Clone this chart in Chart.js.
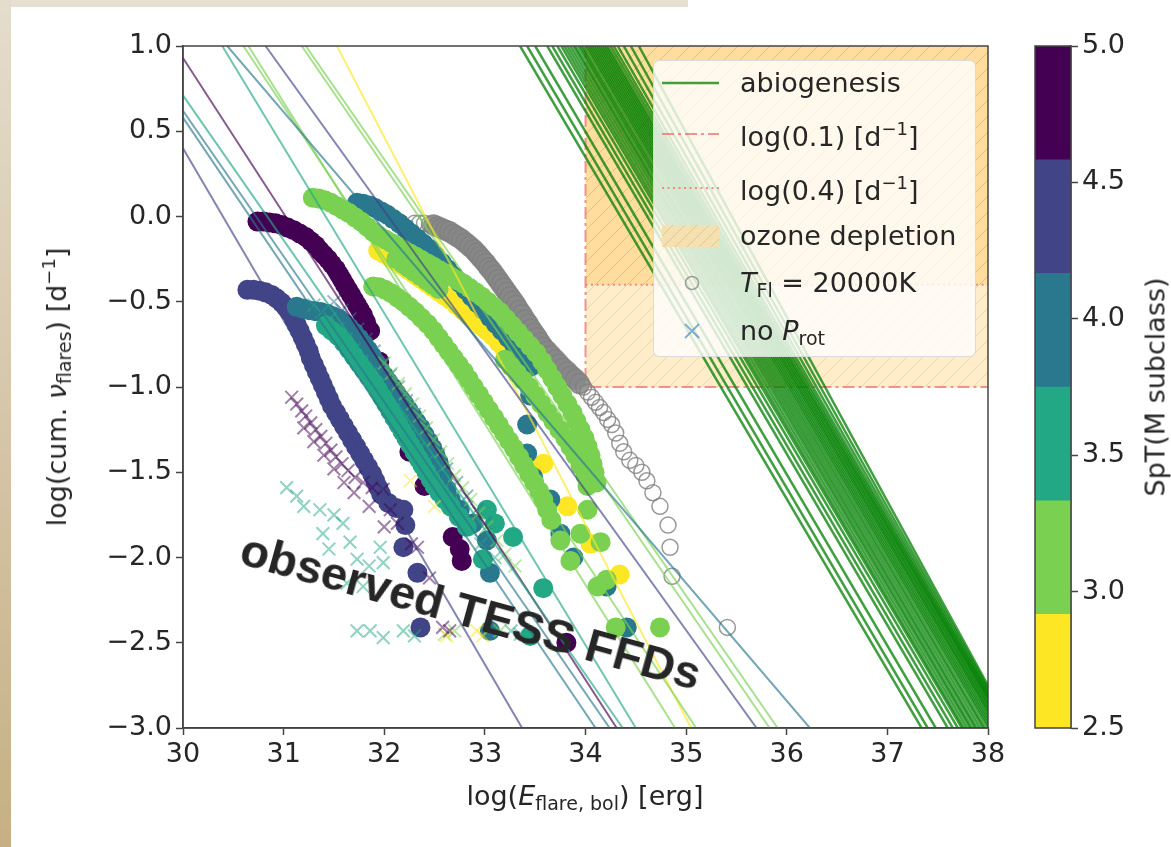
<!DOCTYPE html>
<html>
<head>
<meta charset="utf-8">
<script src="https://cdn.jsdelivr.net/npm/chart.js@4.4.1/dist/chart.umd.min.js"></script>
<style>
  html, body { margin: 0; padding: 0; background: #fff; }
  body { width: 1171px; height: 847px; position: relative; overflow: hidden;
         font-family: 'DejaVu Sans', sans-serif; color: #262626; }
  #frameTop { position: absolute; left: 0; top: 0; width: 688px; height: 7px; background: #e6dfd2; }
  #frameLeft { position: absolute; left: 0; top: 0; width: 11px; height: 847px;
               background: linear-gradient(#e4dccd, #c6b083); }
  #main { position: absolute; left: 0; top: 0; }
  #cbar { position: absolute; left: 1000px; top: 0; }
  .lbl { position: absolute; font-size: 27px; white-space: nowrap; line-height: 1; }
  .s { font-size: 19px; vertical-align: -5px; }
  .p { font-size: 18px; vertical-align: 11px; }
  #legend { position: absolute; left: 653px; top: 60px; width: 323px; height: 297px;
            background: rgba(255,255,255,0.8); border: 1px solid rgba(210,210,210,0.8);
            border-radius: 6px; box-sizing: border-box; }
  .row { position: absolute; left: 0; height: 40px; width: 320px; }
  .row svg { position: absolute; left: 8px; top: 8px; }
  .row > span { position: absolute; left: 86px; top: 6px; font-size: 27px; white-space: nowrap; line-height: 1; }
  #note { position: absolute; left: 471px; top: 611px; transform: translate(-50%, -50%) rotate(15.5deg);
          font-family: 'Liberation Sans', Arial, sans-serif; font-weight: bold; font-size: 47px;
          color: #262626; white-space: nowrap; line-height: 1; }
</style>
</head>
<body>
<div id="frameTop"></div>
<div id="frameLeft"></div>
<canvas id="main" width="1010" height="847"></canvas>
<canvas id="cbar" width="171" height="847"></canvas>

<div class="lbl" style="left:585px; top:797px; transform:translate(-50%,-50%);">log(<i>E</i><span class="s">flare, bol</span>) [erg]</div>
<div class="lbl" style="left:57px; top:387px; transform:translate(-50%,-50%) rotate(-90deg);">log(cum. <i>ν</i><span class="s">flares</span>) [d<span class="p">−1</span>]</div>
<div class="lbl" style="left:1155px; top:387px; transform:translate(-50%,-50%) rotate(-90deg);">SpT(M subclass)</div>
<div id="note">observed TESS FFDs</div>

<div id="legend">
  <div class="row" style="top:2px">
    <svg width="58" height="24"><line x1="0" y1="12" x2="57" y2="12" stroke="rgba(0,128,0,0.75)" stroke-width="2.5"/></svg>
    <span>abiogenesis</span>
  </div>
  <div class="row" style="top:53px">
    <svg width="58" height="24"><line x1="0" y1="12" x2="57" y2="12" stroke="rgba(240,110,110,0.75)" stroke-width="2" stroke-dasharray="12 4 3 4"/></svg>
    <span>log(0.1) [d<span class="p">−1</span>]</span>
  </div>
  <div class="row" style="top:107px">
    <svg width="58" height="24"><line x1="0" y1="12" x2="57" y2="12" stroke="rgba(240,110,110,0.75)" stroke-width="2" stroke-dasharray="2 3.5"/></svg>
    <span>log(0.4) [d<span class="p">−1</span>]</span>
  </div>
  <div class="row" style="top:155px">
    <svg width="58" height="24">
      <defs><pattern id="hp" width="12" height="12" patternUnits="userSpaceOnUse">
        <path d="M0,12 L12,0" stroke="rgba(230,170,80,0.5)" stroke-width="1"/></pattern></defs>
      <rect x="0" y="1" width="57" height="22" fill="rgb(244,224,176)"/>
      <rect x="0" y="1" width="57" height="22" fill="url(#hp)"/>
    </svg>
    <span>ozone depletion</span>
  </div>
  <div class="row" style="top:202px">
    <svg width="58" height="24"><circle cx="30" cy="12" r="6.5" fill="none" stroke="rgba(128,128,128,0.75)" stroke-width="1.5"/></svg>
    <span><i>T</i><span class="s">Fl</span> = 20000K</span>
  </div>
  <div class="row" style="top:250px">
    <svg width="58" height="24"><path d="M23,5 L37,19 M23,19 L37,5" stroke="rgba(31,119,180,0.55)" stroke-width="2"/></svg>
    <span>no <i>P</i><span class="s">rot</span></span>
  </div>
</div>

<script>
// axes
var xTicks = [30, 31, 32, 33, 34, 35, 36, 37, 38];
var yTicks = [-3.0, -2.5, -2.0, -1.5, -1.0, -0.5, 0.0, 0.5, 1.0];

// colour bar (discrete viridis, M subclass)
var sptEdges = [2.5, 2.917, 3.333, 3.75, 4.167, 4.583, 5.0];
var sptColors = ['#fde725', '#7ad151', '#22a884', '#2a788e', '#414487', '#440154'];
var cbarTicks = [2.5, 3.0, 3.5, 4.0, 4.5, 5.0];

// ozone depletion box
var ozoneX = [34, 38];
var logRate01 = -1.0;
var logRate04 = -0.4;

// abiogenesis lines: x where each line crosses y=1 and y=-3
var abioTopX = [33.35, 33.42, 33.50, 33.62, 33.67, 33.72, 33.76, 33.79, 33.82, 33.85, 33.88, 33.90, 33.93, 33.95, 33.97, 34.00, 34.02,
                34.04, 34.06, 34.08, 34.10, 34.12, 34.14, 34.16, 34.18, 34.20, 34.22, 34.25, 34.28, 34.32, 34.38, 34.45, 34.53];
var abioBotX = [37.34, 37.40, 37.48, 37.60, 37.65, 37.70, 37.74, 37.76, 37.79, 37.82, 37.84, 37.87, 37.89, 37.92, 37.95, 37.97, 38.00,
                38.02, 38.04, 38.06, 38.08, 38.10, 38.11, 38.13, 38.14, 38.16, 38.17, 38.18, 38.19, 38.20, 38.21, 38.22, 38.23];

// power law fits per star
var fitX0 = [30, 30, 30, 30, 30, 30.39, 30.44, 30.60, 30.65, 30.82, 31.18, 31.53, 31.22];
var fitY0 = [0.40, 0.58, 0.62, 0.71, 0.93, 1, 1, 1, 1, 1, 1, 1, 1];
var fitX1 = [33.37, 34.10, 34.24, 34.37, 34.31, 34.50, 36.23, 35.10, 34.89, 35.70, 35.83, 35.05, 35.91];
var fitY1 = [-3, -3, -3, -3, -3, -3, -3, -3, -3, -3, -3, -3, -3];
var fitSpT = [4.5, 4.0, 4.0, 3.5, 5.0, 3.5, 4.0, 3.0, 3.0, 4.5, 3.0, 2.5, 3.0];

// observed FFDs, stars with rotation periods
var ffdM50 = [[30.74,-0.03],[30.8,-0.03],[30.86,-0.035],[30.92,-0.04],[30.98,-0.05],[31.04,-0.065],[31.1,-0.08],[31.16,-0.1],
  [31.22,-0.12],[31.27,-0.145],[31.32,-0.17],[31.36,-0.2],[31.4,-0.225],[31.44,-0.25],[31.48,-0.28],[31.52,-0.31],[31.55,-0.34],
  [31.58,-0.37],[31.61,-0.4],[31.64,-0.43],[31.67,-0.46],[31.7,-0.49],[31.73,-0.52],[31.76,-0.55],[31.79,-0.58],[31.82,-0.62],
  [31.86,-0.67],[31.95,-0.85],[32.1,-1.12],[32.25,-1.38],[32.4,-1.58],[32.68,-1.88],[32.75,-1.95],[32.77,-2.02],[33.81,-2.5]];
var ffdM45 = [[30.64,-0.43],[30.7,-0.43],[30.76,-0.435],[30.82,-0.445],[30.88,-0.46],[30.93,-0.48],[30.98,-0.505],[31.02,-0.53],
  [31.06,-0.56],[31.1,-0.6],[31.13,-0.635],[31.16,-0.67],[31.19,-0.71],[31.22,-0.75],[31.25,-0.79],[31.27,-0.83],[31.3,-0.87],
  [31.33,-0.91],[31.36,-0.95],[31.39,-0.99],[31.42,-1.03],[31.45,-1.07],[31.48,-1.11],[31.52,-1.15],[31.56,-1.19],[31.6,-1.23],
  [31.64,-1.27],[31.68,-1.31],[31.72,-1.35],[31.76,-1.39],[31.8,-1.43],[31.84,-1.47],[31.88,-1.51],[31.91,-1.55],[31.94,-1.59],
  [31.97,-1.63],[32.04,-1.68],[32.12,-1.71],[32.19,-1.72],[32.21,-1.81],[32.19,-1.94],[32.33,-2.09],[32.36,-2.41]];
var ffdM40a = [[31.13,-0.53],[31.19,-0.54],[31.25,-0.55],[31.31,-0.555],[31.37,-0.56],[31.43,-0.57],[31.49,-0.585],[31.55,-0.6],
  [31.6,-0.625],[31.65,-0.65],[31.7,-0.68],[31.75,-0.715],[31.8,-0.75],[31.84,-0.785],[31.88,-0.82],[31.92,-0.86],[31.96,-0.9],
  [32.0,-0.935],[32.04,-0.97],[32.08,-1.0],[32.12,-1.035],[32.16,-1.07],[32.2,-1.1],[32.24,-1.135],[32.28,-1.17],[32.32,-1.205],
  [32.36,-1.24],[32.4,-1.28],[32.44,-1.32],[32.48,-1.36],[32.51,-1.4],[32.54,-1.44],[32.56,-1.48],[32.58,-1.53],[32.62,-1.6],
  [32.66,-1.66],[32.75,-1.72],[32.88,-1.8],[33.02,-1.9],[33.05,-2.09],[33.05,-2.43]];
var ffdM35 = [[31.42,-0.64],[31.48,-0.67],[31.54,-0.7],[31.6,-0.74],[31.65,-0.78],[31.7,-0.82],[31.75,-0.86],[31.8,-0.9],
  [31.85,-0.94],[31.9,-0.98],[31.94,-1.02],[31.98,-1.06],[32.02,-1.1],[32.06,-1.14],[32.1,-1.18],[32.14,-1.22],[32.18,-1.26],
  [32.22,-1.3],[32.26,-1.34],[32.3,-1.38],[32.34,-1.42],[32.38,-1.46],[32.42,-1.5],[32.46,-1.54],[32.5,-1.58],[32.55,-1.62],
  [32.6,-1.66],[32.66,-1.7],[32.74,-1.76],[32.82,-1.82],[32.98,-2.01],[33.02,-1.72],[33.1,-1.8],[33.28,-1.88],[33.58,-2.18],
  [33.45,-2.46]];
var ffdM40b = [[31.73,0.08],[31.79,0.075],[31.85,0.065],[31.91,0.05],[31.97,0.03],[32.03,0.01],[32.09,-0.015],[32.15,-0.04],
  [32.21,-0.07],[32.27,-0.1],[32.33,-0.13],[32.39,-0.16],[32.45,-0.19],[32.51,-0.23],[32.57,-0.27],[32.63,-0.31],[32.69,-0.35],
  [32.75,-0.39],[32.81,-0.43],[32.87,-0.47],[32.93,-0.51],[32.99,-0.55],[33.05,-0.59],[33.11,-0.63],[33.17,-0.67],[33.23,-0.71],
  [33.29,-0.75],[33.35,-0.79],[33.41,-0.83],[33.46,-0.88],[33.45,-1.05],[33.42,-1.22],[33.42,-1.39],[33.48,-1.53],[33.65,-1.66],
  [33.75,-1.86],[33.88,-2.0],[34.21,-2.17],[34.41,-2.41]];
var ffdM25 = [[31.94,-0.2],[32.0,-0.22],[32.06,-0.24],[32.12,-0.265],[32.18,-0.29],[32.24,-0.315],[32.3,-0.34],[32.36,-0.365],
  [32.42,-0.39],[32.48,-0.415],[32.54,-0.44],[32.6,-0.465],[32.66,-0.49],[32.72,-0.52],[32.78,-0.55],[32.84,-0.58],[32.9,-0.61],
  [32.96,-0.64],[33.02,-0.67],[33.08,-0.7],[33.14,-0.74],[33.2,-0.78],[33.26,-0.82],[33.3,-0.86],[33.58,-1.45],[33.82,-1.7],
  [34.05,-1.92],[34.34,-2.1]];
var ffdM30a = [[31.29,0.11],[31.35,0.105],[31.41,0.095],[31.47,0.08],[31.53,0.06],[31.59,0.04],[31.65,0.02],[31.71,-0.005],
  [31.77,-0.03],[31.83,-0.06],[31.89,-0.09],[31.95,-0.115],[32.01,-0.135],[32.07,-0.155],[32.13,-0.175],[32.19,-0.195],
  [32.25,-0.215],[32.31,-0.235],[32.37,-0.255],[32.43,-0.275],[32.49,-0.295],[32.55,-0.315],[32.61,-0.335],[32.67,-0.355],
  [32.73,-0.375],[32.79,-0.395],[32.85,-0.42],[32.91,-0.445],[32.97,-0.47],[33.03,-0.5],[33.09,-0.53],[33.15,-0.56],[33.21,-0.6],
  [33.27,-0.64],[33.33,-0.68],[33.39,-0.72],[33.45,-0.76],[33.51,-0.8],[33.57,-0.85],[33.62,-0.9],[33.67,-0.95],[33.72,-1.0],
  [33.77,-1.05],[33.82,-1.1],[33.87,-1.15],[33.91,-1.2],[33.95,-1.25],[33.99,-1.3],[34.02,-1.35],[34.05,-1.4],[34.07,-1.45],
  [34.09,-1.5],[34.11,-1.56],[33.95,-1.86],[34.15,-1.91],[34.21,-2.13],[34.12,-2.17],[34.3,-2.41],[34.74,-2.41]];
var ffdM30b = [[31.89,-0.41],[31.95,-0.415],[32.01,-0.43],[32.07,-0.45],[32.13,-0.475],[32.19,-0.5],[32.25,-0.53],[32.31,-0.56],
  [32.37,-0.595],[32.43,-0.63],[32.49,-0.67],[32.54,-0.71],[32.59,-0.75],[32.64,-0.79],[32.69,-0.83],[32.74,-0.87],[32.79,-0.91],
  [32.84,-0.955],[32.89,-1.0],[32.94,-1.045],[32.99,-1.09],[33.04,-1.135],[33.09,-1.18],[33.14,-1.225],[33.19,-1.27],[33.24,-1.315],
  [33.29,-1.36],[33.34,-1.41],[33.39,-1.46],[33.44,-1.51],[33.49,-1.56],[33.54,-1.61],[33.58,-1.66],[33.62,-1.72],[33.66,-1.78],
  [33.75,-1.9],[33.85,-2.02]];
var ffdM30c = [[32.12,-0.25],[32.18,-0.275],[32.24,-0.3],[32.3,-0.325],[32.36,-0.35],[32.42,-0.375],[32.48,-0.4],[32.54,-0.425],
  [33.2,-0.84],[33.26,-0.88],[33.32,-0.92],[33.38,-0.96],[33.44,-1.0],[33.5,-1.05],[33.56,-1.1],[33.62,-1.15],[33.68,-1.2],
  [33.74,-1.25],[33.8,-1.3],[33.85,-1.35],[33.9,-1.4],[33.95,-1.46],[34.0,-1.52],[34.02,-1.58],[34.02,-1.72]];

// stars without rotation period
var noProtM50 = [[31.08,-1.06],[31.13,-1.1],[31.18,-1.14],[31.22,-1.17],[31.27,-1.21],[31.32,-1.25],[31.37,-1.29],[31.42,-1.33],
  [31.47,-1.37],[31.52,-1.41],[31.58,-1.45],[31.64,-1.49],[31.71,-1.53],[31.79,-1.56],[31.88,-1.59],[31.99,-1.6],[32.06,-1.72],
  [32.13,-1.8],[32.27,-1.92],[32.33,-1.94],[32.45,-2.12],[32.58,-2.41],[32.65,-2.43],[31.2,-1.24],[31.3,-1.32],[31.4,-1.4],
  [31.5,-1.48],[31.6,-1.56],[31.7,-1.62],[31.85,-1.7],[32.0,-1.82]];
var noProtM35a = [[31.03,-1.59],[31.13,-1.64],[31.2,-1.7],[31.36,-1.72],[31.39,-1.86],[31.5,-1.75],[31.59,-1.8],[31.66,-1.91],
  [31.73,-2.01],[31.63,-2.15],[31.79,-2.17],[31.96,-1.94],[31.99,-2.03],[31.73,-2.43],[31.86,-2.43],[31.99,-2.47],[32.19,-2.43],
  [32.3,-2.46],[31.45,-1.95],[31.85,-2.05]];
var noProtM35b = [[31.3,-0.52],[31.38,-0.56],[31.46,-0.6],[31.54,-0.66],[31.62,-0.72],[31.7,-0.78],[31.78,-0.85],[31.86,-0.92],
  [31.94,-0.99],[32.02,-1.06],[32.1,-1.13],[32.18,-1.2],[32.26,-1.28],[32.34,-1.36],[32.42,-1.44],[32.5,-1.52],[32.58,-1.6],
  [32.66,-1.68],[32.76,-1.76],[32.86,-1.84],[32.96,-1.92],[33.1,-2.0],[33.26,-2.43],[33.35,-2.45]];
var noProtM40 = [[31.5,-0.5],[31.58,-0.55],[31.66,-0.6],[31.74,-0.66],[31.82,-0.72],[31.9,-0.79],[31.98,-0.86],[32.06,-0.93],
  [32.14,-1.0],[32.22,-1.08],[32.3,-1.16],[32.38,-1.24],[32.46,-1.32],[32.54,-1.4],[32.62,-1.48],[32.72,-1.56],[32.82,-1.64],
  [32.92,-1.72],[33.0,-1.8]];
var noProtM30 = [[32.0,-0.86],[32.07,-0.92],[32.14,-0.98],[32.21,-1.04],[32.28,-1.1],[32.35,-1.17],[32.42,-1.24],[32.49,-1.31],
  [32.56,-1.38],[32.63,-1.45],[32.7,-1.52],[32.78,-1.59],[32.86,-1.66],[32.94,-1.74],[33.02,-1.82],[33.12,-1.9],[33.2,-1.98],
  [33.3,-2.05],[32.6,-2.45],[32.7,-2.43],[33.15,-2.43]];
var noProtM25 = [[32.26,-1.55],[32.5,-1.7],[32.62,-2.46],[32.92,-2.43],[32.98,-2.46]];

// flare temperature 20000 K
var hot20000K = [[32.3,-0.04],[32.35,-0.04],[32.4,-0.04],[32.45,-0.045],[32.49,-0.05],[32.53,-0.06],[32.57,-0.07],[32.61,-0.08],
  [32.65,-0.09],[32.69,-0.105],[32.73,-0.12],[32.77,-0.135],[32.81,-0.155],[32.85,-0.175],[32.89,-0.195],[32.92,-0.215],
  [32.95,-0.235],[32.98,-0.255],[33.01,-0.275],[33.04,-0.3],[33.07,-0.32],[33.1,-0.345],[33.13,-0.37],[33.16,-0.395],[33.19,-0.42],
  [33.22,-0.445],[33.25,-0.47],[33.28,-0.495],[33.31,-0.52],[33.34,-0.55],[33.37,-0.575],[33.4,-0.605],[33.43,-0.63],[33.46,-0.66],
  [33.49,-0.685],[33.52,-0.71],[33.55,-0.74],[33.58,-0.765],[33.62,-0.79],[33.66,-0.815],[33.7,-0.84],[33.74,-0.865],[33.78,-0.89],
  [33.82,-0.91],[33.86,-0.935],[33.9,-0.955],[33.94,-0.98],[33.98,-1.0],[34.02,-1.03],[34.06,-1.06],[34.1,-1.09],[34.14,-1.12],
  [34.18,-1.15],[34.22,-1.19],[34.26,-1.22],[34.3,-1.27],[34.34,-1.33],[34.38,-1.38],[34.44,-1.43],[34.5,-1.46],[34.56,-1.5],
  [34.61,-1.55],[34.67,-1.62],[34.74,-1.7],[34.82,-1.81],[34.84,-1.94],[34.86,-2.11],[35.41,-2.41]];

var FONT = { family: 'DejaVu Sans', size: 27 };
var INK = '#262626';
var AXIS = '#444';

function toXY(arr) {
  return arr.map(function(p) { return { x: p[0], y: p[1] }; });
}
function rgba(hex, a) {
  var n = parseInt(hex.slice(1), 16);
  return 'rgba(' + (n >> 16) + ',' + ((n >> 8) & 255) + ',' + (n & 255) + ',' + a + ')';
}
function sptColor(s) {
  for (var i = 0; i < sptColors.length; i++) {
    if (s <= sptEdges[i + 1] + 1e-6) return sptColors[i];
  }
  return sptColors[sptColors.length - 1];
}
function dots(arr, spt, order) {
  return { data: toXY(arr), showLine: false, pointStyle: 'circle', pointRadius: 10,
           pointBackgroundColor: sptColor(spt), pointBorderWidth: 0, order: order };
}
function crosses(arr, spt, order) {
  return { data: toXY(arr), showLine: false, pointStyle: 'crossRot', pointRadius: 9,
           pointBorderColor: rgba(sptColor(spt), 0.5), pointBorderWidth: 2, order: order };
}
function segment(pts, color, width, order, dash) {
  return { data: pts, borderColor: color, borderWidth: width, borderDash: dash || [],
           pointRadius: 0, fill: false, order: order };
}
function denseHot(c) {
  var p = c.raw;
  return p && p.x > 32.47 && p.y > -1.0;
}

// hatched orange fill
var mainCanvas = document.getElementById('main');
var tile = document.createElement('canvas');
tile.width = 16; tile.height = 16;
var tg = tile.getContext('2d');
tg.fillStyle = 'rgba(255,165,0,0.21)';
tg.fillRect(0, 0, 16, 16);
tg.strokeStyle = 'rgba(230,140,30,0.25)';
tg.lineWidth = 1;
tg.beginPath();
tg.moveTo(0, 16); tg.lineTo(16, 0);
tg.moveTo(-4, 4); tg.lineTo(4, -4);
tg.moveTo(12, 20); tg.lineTo(20, 12);
tg.stroke();
var hatch = mainCanvas.getContext('2d').createPattern(tile, 'repeat');

var datasets = [];
// ozone depletion regions
datasets.push({ data: [{ x: ozoneX[0], y: logRate01 }, { x: ozoneX[1], y: logRate01 }], fill: 'end',
                backgroundColor: hatch, borderWidth: 0, pointRadius: 0, order: 100 });
datasets.push({ data: [{ x: ozoneX[0], y: logRate04 }, { x: ozoneX[1], y: logRate04 }], fill: 'end',
                backgroundColor: hatch, borderWidth: 0, pointRadius: 0, order: 99 });
datasets.push(segment([{ x: ozoneX[0], y: 1 }, { x: ozoneX[0], y: logRate01 }, { x: ozoneX[1], y: logRate01 }],
                      'rgba(240,110,110,0.75)', 2, 98, [12, 4, 3, 4]));
datasets.push(segment([{ x: ozoneX[0], y: logRate04 }, { x: ozoneX[1], y: logRate04 }],
                      'rgba(240,110,110,0.75)', 2, 97, [2, 3.5]));
// abiogenesis
abioTopX.forEach(function(xt, i) {
  datasets.push(segment([{ x: xt, y: 1 }, { x: abioBotX[i], y: -3 }], 'rgba(0,128,0,0.75)', 2.5, 90));
});
// T = 20000 K open circles
datasets.push({ data: toXY(hot20000K), showLine: false, pointStyle: 'circle',
                pointRadius: function(c) { return denseHot(c) ? 10 : 8; },
                pointBorderColor: 'rgba(128,128,128,0.8)', pointBorderWidth: 1.5,
                pointBackgroundColor: function(c) { return denseHot(c) ? 'rgba(136,136,136,0.85)' : 'rgba(0,0,0,0)'; },
                order: 60 });
// FFDs
datasets.push(dots(ffdM50, 5.0, 59));
datasets.push(dots(ffdM45, 4.5, 58));
datasets.push(dots(ffdM40a, 4.0, 57));
datasets.push(dots(ffdM35, 3.5, 56));
datasets.push(dots(ffdM25, 2.5, 55));
datasets.push(dots(ffdM40b, 4.0, 54));
datasets.push(dots(ffdM30c, 3.0, 53));
datasets.push(dots(ffdM30a, 3.0, 52));
datasets.push(dots(ffdM30b, 3.0, 51));
// no rotation period
datasets.push(crosses(noProtM40, 4.0, 45));
datasets.push(crosses(noProtM35b, 3.5, 44));
datasets.push(crosses(noProtM35a, 3.5, 43));
datasets.push(crosses(noProtM30, 3.0, 42));
datasets.push(crosses(noProtM25, 2.5, 41));
datasets.push(crosses(noProtM50, 5.0, 40));
// power law fits
fitX0.forEach(function(x0, i) {
  datasets.push(segment([{ x: x0, y: fitY0[i] }, { x: fitX1[i], y: fitY1[i] }],
                        rgba(sptColor(fitSpT[i]), 0.65), 2, 10));
});

var frame = {
  id: 'frame',
  afterDatasetsDraw: function(chart) {
    var a = chart.chartArea, g = chart.ctx;
    g.save();
    g.strokeStyle = AXIS;
    g.lineWidth = 1.5;
    g.strokeRect(a.left, a.top, a.right - a.left, a.bottom - a.top);
    g.restore();
  }
};

new Chart(mainCanvas, {
  type: 'line',
  data: { datasets: datasets },
  options: {
    responsive: false, animation: false, devicePixelRatio: 1, events: [],
    layout: { padding: { left: 0, top: 46, right: 22, bottom: 0 } },
    elements: { line: { tension: 0 } },
    plugins: { legend: { display: false }, tooltip: { enabled: false } },
    scales: {
      x: {
        type: 'linear', min: 30, max: 38,
        afterFit: function(s) { s.height = 119; },
        afterBuildTicks: function(s) { s.ticks = xTicks.map(function(v) { return { value: v }; }); },
        ticks: { font: FONT, color: INK, padding: 4, maxRotation: 0, autoSkip: false,
                 callback: function(v) { return String(v); } },
        grid: { drawOnChartArea: false, tickLength: 7, tickWidth: 1.5, tickColor: AXIS },
        border: { color: AXIS, width: 1.5 }
      },
      y: {
        type: 'linear', min: -3, max: 1,
        afterFit: function(s) { s.width = 183; },
        afterBuildTicks: function(s) { s.ticks = yTicks.map(function(v) { return { value: v }; }); },
        ticks: { font: FONT, color: INK, padding: 4, autoSkip: false,
                 callback: function(v) { return v.toFixed(1).replace('-', '\u2212'); } },
        grid: { drawOnChartArea: false, tickLength: 7, tickWidth: 1.5, tickColor: AXIS },
        border: { color: AXIS, width: 1.5 }
      }
    }
  },
  plugins: [frame]
});

// colour bar
new Chart(document.getElementById('cbar'), {
  type: 'bar',
  data: {
    labels: [''],
    datasets: sptColors.map(function(c, i) {
      return { data: [[sptEdges[i], sptEdges[i + 1]]], backgroundColor: c, borderWidth: 0,
               grouped: false, barPercentage: 1, categoryPercentage: 1 };
    })
  },
  options: {
    responsive: false, animation: false, devicePixelRatio: 1, events: [],
    layout: { padding: { left: 35, top: 46, right: 0, bottom: 119 } },
    plugins: { legend: { display: false }, tooltip: { enabled: false } },
    scales: {
      x: { display: false },
      y: {
        position: 'right', min: 2.5, max: 5.0,
        afterFit: function(s) { s.width = 100; },
        afterBuildTicks: function(s) { s.ticks = cbarTicks.map(function(v) { return { value: v }; }); },
        ticks: { font: FONT, color: INK, padding: 4, callback: function(v) { return v.toFixed(1); } },
        grid: { drawOnChartArea: false, tickLength: 7, tickWidth: 1.5, tickColor: AXIS },
        border: { color: AXIS, width: 1.5 }
      }
    }
  },
  plugins: [frame]
});
</script>
</body>
</html>
